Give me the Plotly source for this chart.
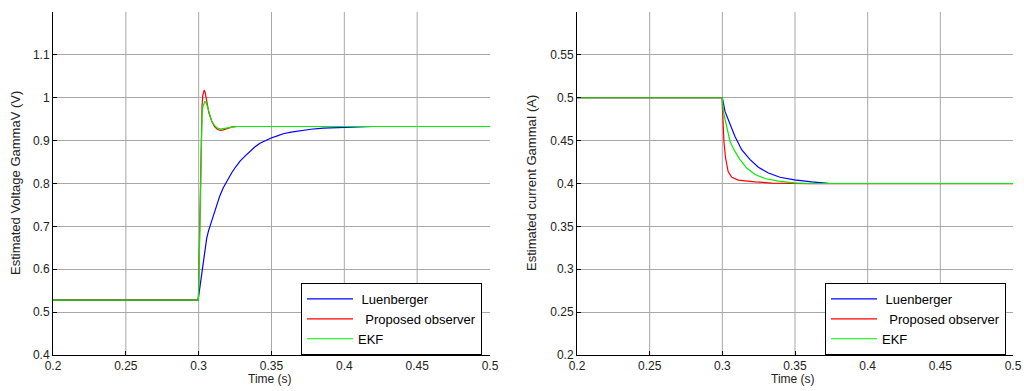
import plotly.graph_objects as go

# ---------------- data: voltage (left) ----------------
t_luen_v = [0.2, 0.2995, 0.3003, 0.3009, 0.3015, 0.3020, 0.3026, 0.3032, 0.3043, 0.3055, 0.3068,
            0.3083, 0.3103, 0.3124, 0.3145, 0.3169, 0.3197, 0.3227, 0.3255, 0.3284, 0.3318,
            0.3352, 0.3385, 0.3421, 0.3458, 0.3497, 0.354, 0.358, 0.3635, 0.3696, 0.377,
            0.3856, 0.3993, 0.42, 0.5]
v_luen = [0.528, 0.528, 0.545, 0.560, 0.576, 0.592, 0.608, 0.624, 0.650, 0.672, 0.690,
          0.705, 0.729, 0.751, 0.771, 0.790, 0.808, 0.825, 0.839, 0.852, 0.864,
          0.875, 0.885, 0.894, 0.900, 0.906, 0.911, 0.916, 0.920, 0.9235, 0.9265,
          0.929, 0.931, 0.933, 0.933]

t_prop_v = [0.2, 0.2998, 0.3003, 0.3008, 0.3013, 0.3018, 0.3023, 0.3028, 0.3033, 0.3038,
            0.3045, 0.3055, 0.307, 0.309, 0.311, 0.313, 0.315, 0.317, 0.32, 0.323, 0.327, 0.5]
v_prop = [0.528, 0.528, 0.62, 0.74, 0.85, 0.93, 0.98, 1.005, 1.016, 1.018,
          1.012, 0.99, 0.965, 0.945, 0.932, 0.926, 0.924, 0.925, 0.929, 0.932, 0.933, 0.933]

t_ekf_v = [0.2, 0.2998, 0.3003, 0.3008, 0.3013, 0.3018, 0.3023, 0.3028, 0.3035, 0.3043,
           0.3055, 0.307, 0.309, 0.311, 0.313, 0.315, 0.318, 0.322, 0.326, 0.5]
v_ekf = [0.528, 0.528, 0.60, 0.72, 0.84, 0.92, 0.96, 0.978, 0.988, 0.992,
         0.985, 0.965, 0.945, 0.935, 0.929, 0.927, 0.928, 0.931, 0.933, 0.933]

# ---------------- data: current (right) ----------------
t_luen_i = [0.2, 0.3, 0.3019, 0.3053, 0.3087, 0.3133, 0.3191, 0.3248, 0.3317, 0.3397,
            0.3496, 0.3615, 0.373, 0.5]
i_luen = [0.5, 0.5, 0.4838, 0.4684, 0.4548, 0.4394, 0.4278, 0.4189, 0.4123, 0.4073,
          0.4042, 0.4019, 0.4002, 0.4]

t_prop_i = [0.2, 0.2998, 0.3004, 0.3011, 0.3022, 0.3040, 0.3065, 0.311, 0.3225, 0.334, 0.36, 0.5]
i_prop = [0.5, 0.5, 0.476, 0.449, 0.430, 0.414, 0.4073, 0.404, 0.402, 0.4005, 0.3997, 0.3997]

t_ekf_i = [0.2, 0.3, 0.3007, 0.303, 0.3053, 0.3087, 0.3122, 0.3168, 0.3225, 0.3294,
           0.3385, 0.3496, 0.36, 0.5]
i_ekf = [0.5, 0.5, 0.4837, 0.4644, 0.449, 0.4374, 0.4278, 0.418, 0.4104, 0.4058,
         0.4027, 0.4008, 0.4, 0.4]

x_ticks = [0.2, 0.25, 0.3, 0.35, 0.4, 0.45, 0.5]
x_tick_text = ["0.2", "0.25", "0.3", "0.35", "0.4", "0.45", "0.5"]
x_grid = [0.25, 0.3, 0.35, 0.4, 0.45]
yv_ticks = [0.4, 0.5, 0.6, 0.7, 0.8, 0.9, 1.0, 1.1]
yv_tick_text = ["0.4", "0.5", "0.6", "0.7", "0.8", "0.9", "1", "1.1"]
yi_ticks = [0.2, 0.25, 0.3, 0.35, 0.4, 0.45, 0.5, 0.55]
yi_tick_text = ["0.2", "0.25", "0.3", "0.35", "0.4", "0.45", "0.5", "0.55"]

names = ["\u00a0Luenberger", "\u00a0\u00a0Proposed observer", "EKF"]
colors = ["#0000ff", "#ff0000", "#00ee00"]

W, H = 1024, 391
FONT = "Liberation Sans, Arial, sans-serif"

fig = go.Figure()
for (t, v), n, c in zip([(t_luen_v, v_luen), (t_prop_v, v_prop), (t_ekf_v, v_ekf)], names, colors):
    fig.add_trace(go.Scatter(x=t, y=v, mode="lines", name=n, line=dict(color=c, width=1.2),
                             xaxis="x", yaxis="y", legend="legend"))
for (t, v), n, c in zip([(t_luen_i, i_luen), (t_prop_i, i_prop), (t_ekf_i, i_ekf)], names, colors):
    fig.add_trace(go.Scatter(x=t, y=v, mode="lines", name=n, line=dict(color=c, width=1.2),
                             xaxis="x2", yaxis="y2", legend="legend2"))

dom_y = [(H - 355) / H, (H - 12) / H]
dom_x1 = [53 / W, 490 / W]
dom_x2 = [577 / W, 1013 / W]

grid = "#a8a8a8"
tickfont = dict(family=FONT, size=12, color="#222")
main_x = dict(range=[0.2, 0.5], tickvals=x_ticks, ticktext=x_tick_text, showgrid=False,
              showline=True, linecolor="black", linewidth=1, ticks="inside", ticklen=4,
              tickcolor="black", zeroline=False, automargin=False, tickfont=tickfont)
main_y = dict(showgrid=True, gridcolor=grid, gridwidth=1, showline=True, linecolor="black",
              linewidth=1, ticks="inside", ticklen=4, tickcolor="black", zeroline=False,
              automargin=False, tickfont=tickfont)
mirror = dict(showticklabels=False, showgrid=False, showline=False, ticks="inside", ticklen=4,
              tickcolor="black", zeroline=False, automargin=False)
legend_style = dict(xanchor="left", yanchor="middle", bordercolor="black", borderwidth=1,
                    bgcolor="white", font=dict(family=FONT, size=13, color="black"),
                    tracegroupgap=0, itemwidth=46)

fig.update_layout(
    width=W, height=H, margin=dict(l=0, r=0, t=0, b=0),
    paper_bgcolor="white", plot_bgcolor="white",
    xaxis=dict(domain=dom_x1, anchor="y", **main_x),
    yaxis=dict(domain=dom_y, anchor="x", range=[0.4, 1.2], tickvals=yv_ticks,
               ticktext=yv_tick_text, **main_y),
    xaxis2=dict(domain=dom_x2, anchor="y2", **main_x),
    yaxis2=dict(domain=dom_y, anchor="x2", range=[0.2, 0.6], tickvals=yi_ticks,
                ticktext=yi_tick_text, **main_y),
    xaxis3=dict(overlaying="x", side="top", anchor="y", range=[0.2, 0.5], tickvals=x_ticks, **mirror),
    yaxis3=dict(overlaying="y", side="right", anchor="x", range=[0.4, 1.2], tickvals=yv_ticks, **mirror),
    xaxis4=dict(overlaying="x2", side="top", anchor="y2", range=[0.2, 0.5], tickvals=x_ticks, **mirror),
    yaxis4=dict(overlaying="y2", side="right", anchor="x2", range=[0.2, 0.6], tickvals=yi_ticks, **mirror),
    legend=dict(x=301 / W, y=1 - 319 / H, **legend_style),
    legend2=dict(x=825 / W, y=1 - 319 / H, **legend_style),
    showlegend=True,
)

# vertical grid lines at the interior x tick values (no line on the right edge, as in the reference)
for xr, yr in (("x", "y domain"), ("x2", "y2 domain")):
    for gx in x_grid:
        fig.add_shape(type="line", xref=xr, yref=yr, x0=gx, x1=gx, y0=0, y1=1,
                      line=dict(color=grid, width=1), layer="below")

title_font = dict(family=FONT, size=13, color="#222")
fig.add_annotation(text="Estimated Voltage GammaV (V)", x=16 / W, y=1 - 183 / H, xref="paper",
                   yref="paper", xanchor="center", yanchor="middle", textangle=-90,
                   showarrow=False, font=title_font)
fig.add_annotation(text="Estimated current GammaI (A)", x=532 / W, y=1 - 183 / H, xref="paper",
                   yref="paper", xanchor="center", yanchor="middle", textangle=-90,
                   showarrow=False, font=title_font)
xt_font = dict(family=FONT, size=12, color="#222")
fig.add_annotation(text="Time (s)", x=270 / W, y=1 - 379 / H, xref="paper", yref="paper",
                   xanchor="center", yanchor="middle", showarrow=False, font=xt_font)
fig.add_annotation(text="Time (s)", x=793 / W, y=1 - 379 / H, xref="paper", yref="paper",
                   xanchor="center", yanchor="middle", showarrow=False, font=xt_font)

fig.write_html("out.html", config={"displayModeBar": False},
               post_script="document.body.style.margin='0px';")
